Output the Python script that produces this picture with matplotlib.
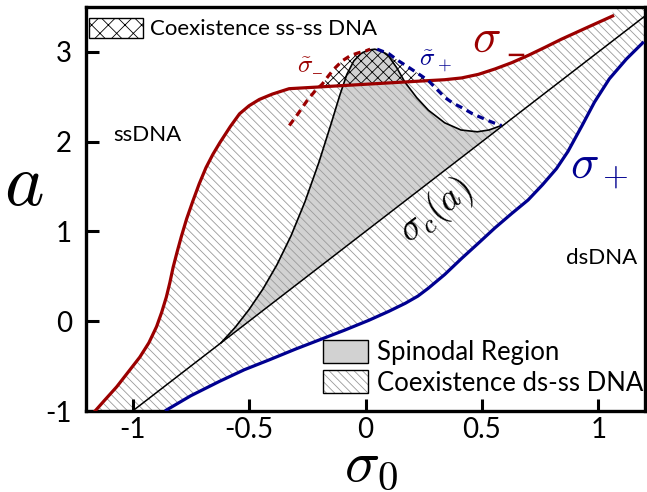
import numpy as np
import matplotlib
matplotlib.use("Agg")
import matplotlib.pyplot as plt
from matplotlib.patches import Patch
from matplotlib.legend_handler import HandlerTuple

plt.rcParams['font.family'] = ['Lato', 'DejaVu Sans']
plt.rcParams['mathtext.fontset'] = 'cm'
plt.rcParams['axes.unicode_minus'] = False
plt.rcParams['hatch.linewidth'] = 0.6

# sigma_- (lower boundary of the ds-ss coexistence band), (sigma0, a)
minus_s = [-1.161, -1.120, -1.068, -1.020, -0.969, -0.930, -0.897, -0.875, -0.855,
           -0.840, -0.826, -0.809, -0.791, -0.768, -0.741, -0.714, -0.685, -0.655,
           -0.625, -0.580, -0.541, -0.500, -0.456, -0.400, -0.328, 0.270, 0.340,
           0.413, 0.485, 0.556, 0.628, 0.698, 0.770, 0.840, 0.950, 1.061]
minus_a = [-1.00, -0.88, -0.73, -0.57, -0.40, -0.24, -0.06, 0.10, 0.27,
           0.43, 0.60, 0.77, 0.94, 1.14, 1.34, 1.53, 1.71, 1.86,
           1.99, 2.17, 2.31, 2.40, 2.47, 2.53, 2.59, 2.68, 2.69,
           2.71, 2.75, 2.81, 2.88, 2.96, 3.05, 3.14, 3.27, 3.40]

# sigma_+ (upper boundary of the band)
plus_s = [-0.855, -0.750, -0.627, -0.520, -0.413, -0.300, -0.200, -0.090, 0.014,
          0.100, 0.171, 0.225, 0.271, 0.340, 0.413, 0.485, 0.556, 0.628, 0.698,
          0.760, 0.820, 0.869, 0.930, 0.983, 1.047, 1.120, 1.190]
plus_a = [-0.99, -0.83, -0.67, -0.54, -0.43, -0.31, -0.21, -0.10, 0.01,
          0.11, 0.20, 0.28, 0.37, 0.52, 0.70, 0.87, 1.04, 1.20, 1.35,
          1.52, 1.70, 1.89, 2.18, 2.44, 2.70, 2.92, 3.10]

# critical line sigma_c(a)
crit_s = [-1.0, 1.2]
crit_a = [-1.0, 3.4]

# spinodal curve
spin_s = [-0.620, -0.560, -0.500, -0.440, -0.380, -0.320, -0.260, -0.200, -0.150,
          -0.110, -0.080, -0.050, -0.020, 0.010, 0.040, 0.070, 0.100, 0.135,
          0.170, 0.220, 0.270, 0.340, 0.410, 0.480, 0.530, 0.584]
spin_a = [-0.24, -0.07, 0.13, 0.36, 0.63, 0.95, 1.33, 1.77, 2.18,
          2.52, 2.75, 2.90, 2.98, 3.02, 3.03, 3.01, 2.95, 2.82,
          2.66, 2.49, 2.35, 2.21, 2.13, 2.11, 2.13, 2.18]

# ss-ss coexistence branches
tm_s = [-0.327, -0.290, -0.250, -0.215, -0.186, -0.160, -0.135, -0.100, -0.064,
        -0.030, 0.000, 0.020]
tm_a = [2.18, 2.31, 2.46, 2.57, 2.64, 2.73, 2.81, 2.90, 2.96,
        2.99, 3.01, 3.03]
tp_s = [0.050, 0.100, 0.142, 0.190, 0.242, 0.270, 0.300, 0.342, 0.375,
        0.413, 0.460, 0.513, 0.550, 0.584]
tp_a = [3.03, 2.98, 2.90, 2.82, 2.73, 2.68, 2.60, 2.49, 2.43,
        2.38, 2.31, 2.25, 2.21, 2.18]

xticks = [-1, -0.5, 0, 0.5, 1]
xticklabels = ['-1', '-0.5', '0', '0.5', '1']
yticks = [-1, 0, 1, 2, 3]
yticklabels = ['-1', '0', '1', '2', '3']
xmin, xmax = -1.2, 1.2
ymin, ymax = -1.0, 3.5

RED = '#9b0000'
BLUE = '#000090'
HATCH_GRAY = '#9a9a9a'
SPIN_GRAY = '#d2d2d2'
DASH = '\u2013'

fig = plt.figure(figsize=(6.47, 4.92), dpi=100)
ax = fig.add_axes([86 / 647, 81 / 492, 559 / 647, 404 / 492])
ax.set_xlim(xmin, xmax)
ax.set_ylim(ymin, ymax)

# spinodal region (closed along the critical line)
ax.fill(spin_s, spin_a, facecolor=SPIN_GRAY, edgecolor='none', zorder=1)

# ds-ss coexistence band between sigma_- and sigma_+
band_s = np.r_[minus_s, minus_s[-1], xmax, xmax, plus_s[::-1]]
band_a = np.r_[minus_a, ymax, ymax, plus_a[-1], plus_a[::-1]]
ax.fill(band_s, band_a, facecolor='none', edgecolor=HATCH_GRAY, linewidth=0,
        hatch='\\\\\\\\', zorder=1.5)

# ss-ss coexistence dome above sigma_-
dome_s = np.r_[tm_s, tp_s]
dome_a = np.r_[tm_a, tp_a]
grid = np.linspace(min(tm_s), max(tp_s), 600)
upper = np.interp(grid, dome_s, dome_a)
lower = np.interp(grid, minus_s, minus_a)
ax.fill_between(grid, lower, upper, where=upper > lower, interpolate=True,
                facecolor='none', edgecolor='black', linewidth=0,
                hatch='xxx', zorder=1.6)

# curves
ax.plot(crit_s, crit_a, color='black', lw=1.1, zorder=3)
ax.plot(spin_s, spin_a, color='black', lw=1.2, zorder=3)
ax.plot(minus_s, minus_a, color=RED, lw=2.3, zorder=4, solid_joinstyle='round')
ax.plot(plus_s, plus_a, color=BLUE, lw=2.3, zorder=4, solid_joinstyle='round')
ax.plot(tm_s, tm_a, color=RED, lw=2.3, ls=(0, (2.2, 1.6)), zorder=4)
ax.plot(tp_s, tp_a, color=BLUE, lw=2.3, ls=(0, (2.2, 1.6)), zorder=4)

# annotations: sigma_- is set as a symbol plus a subscript bar
ax.text(0.518, 3.15, r'$\sigma$', color=RED, fontsize=34,
        ha='center', va='center', zorder=5)
ax.annotate('\u2212', xy=(0.518, 3.15), xytext=(21, -13), textcoords='offset points',
            color=RED, fontsize=26, ha='center', va='center', zorder=5)
ax.text(1.005, 1.68, r'$\sigma_+$', color=BLUE, fontsize=34, ha='center', va='center')
ax.text(-0.238, 2.88, '$\\tilde{\\sigma}_{\\mathrm{' + DASH + '}}$', color=RED,
        fontsize=18, ha='center', va='center', zorder=5)
ax.text(0.30, 2.90, r'$\tilde{\sigma}_+$', color=BLUE, fontsize=18, ha='center', va='center')
ax.text(0.30, 1.23, r'$\sigma_c(a)$', color='black', fontsize=27, ha='center', va='center',
        rotation=37.5, rotation_mode='anchor')
ax.text(-0.938, 2.07, 'ssDNA', fontsize=16, ha='center', va='center')
ax.text(1.015, 0.70, 'dsDNA', fontsize=16, ha='center', va='center')

# legends
h_ss = Patch(facecolor='white', edgecolor='black', hatch='xx', lw=1)
leg1 = ax.legend([h_ss], ['Coexistence ss-ss DNA'], loc='upper left',
                 bbox_to_anchor=(0.005, 0.973), frameon=False, fontsize=16,
                 handlelength=2.45, handleheight=1.0, handletextpad=0.3,
                 borderpad=0, borderaxespad=0)
ax.add_artist(leg1)

h_spin = Patch(facecolor=SPIN_GRAY, edgecolor='black', lw=1)
h_band = (Patch(facecolor='white', edgecolor=HATCH_GRAY, lw=0, hatch='\\\\\\\\'),
          Patch(facecolor='none', edgecolor='black', lw=1))
ax.legend([h_spin, h_band], ['Spinodal Region', 'Coexistence ds-ss DNA'],
          handler_map={tuple: HandlerTuple(ndivide=1)},
          loc='upper left', bbox_to_anchor=(0.424, 0.176), frameon=False, fontsize=18.5,
          handlelength=1.75, handleheight=1.0, handletextpad=0.35, labelspacing=0.2,
          borderpad=0, borderaxespad=0)

# axes styling
for sp in ax.spines.values():
    sp.set_linewidth(2.4)
ax.set_xticks(xticks)
ax.set_xticklabels(xticklabels)
ax.set_yticks(yticks)
ax.set_yticklabels(yticklabels)
ax.tick_params(direction='in', length=9, width=2.2, labelsize=20)
ax.tick_params(axis='x', pad=4)
ax.tick_params(axis='y', pad=10)

ax.set_xlabel(r'$\sigma_0$', fontsize=42)
ax.xaxis.set_label_coords(0.51, -0.072)
ax.set_ylabel(r'$a$', fontsize=54, rotation=0, ha='center', va='center')
ax.yaxis.set_label_coords(-0.111, 0.564)

fig.savefig('out.png', dpi=100)
